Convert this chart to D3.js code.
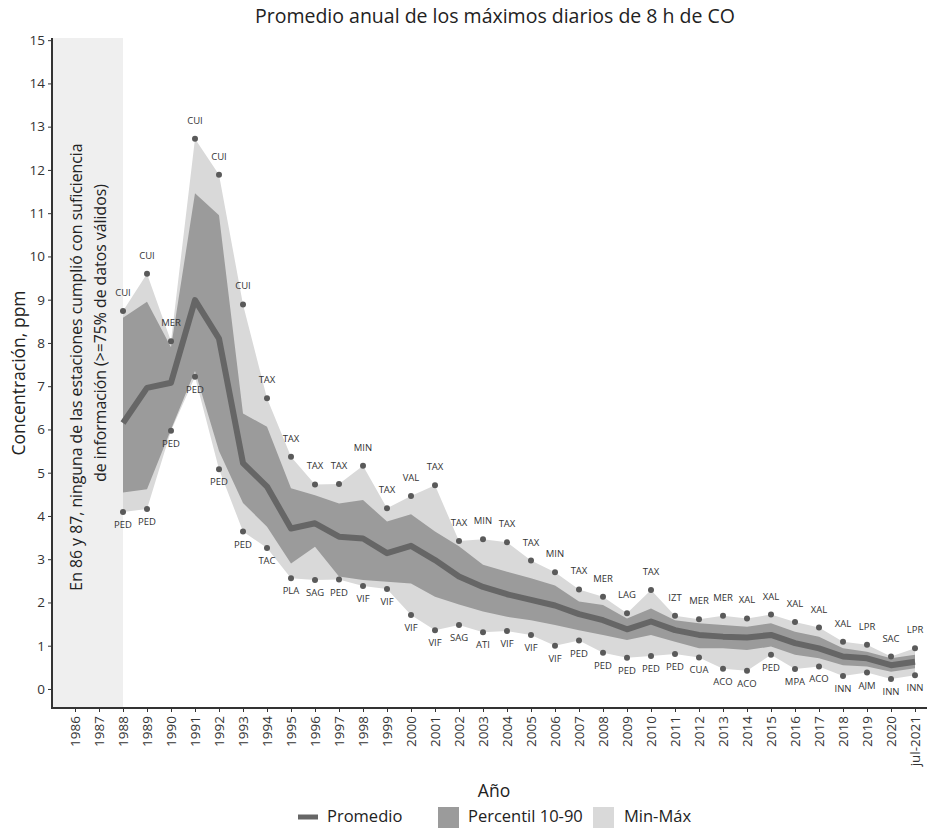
<!DOCTYPE html>
<html>
<head>
<meta charset="utf-8">
<script src="https://cdn.jsdelivr.net/npm/d3@7"></script>
<style>
  html, body { margin: 0; padding: 0; background: #fff; }
  svg { display: block; }
  text { font-family: "Open Sans", "Noto Sans", sans-serif; }
</style>
</head>
<body>
<svg id="chart" width="927" height="828"></svg>
<script>
// Years on the x axis
const years = ["1986","1987","1988","1989","1990","1991","1992","1993","1994","1995",
  "1996","1997","1998","1999","2000","2001","2002","2003","2004","2005","2006","2007",
  "2008","2009","2010","2011","2012","2013","2014","2015","2016","2017","2018","2019",
  "2020","jul-2021"];

// Years with valid data (1986 and 1987 have none)
const dataYears = years.slice(2);

// Annual mean of daily 8-h CO maxima, ppm
const promedio = [6.15, 6.96, 7.08, 8.99, 8.10, 5.22, 4.68, 3.71, 3.83, 3.52, 3.48, 3.14,
  3.31, 2.98, 2.60, 2.36, 2.19, 2.06, 1.93, 1.73, 1.59, 1.38, 1.56, 1.36, 1.25, 1.21,
  1.19, 1.25, 1.06, 0.94, 0.75, 0.71, 0.55, 0.63];
// 90th and 10th percentiles across stations
const p90 = [8.58, 8.95, 7.90, 11.46, 10.95, 6.37, 6.06, 4.64, 4.48, 4.29, 4.37, 3.87,
  4.04, 3.64, 3.30, 2.87, 2.71, 2.56, 2.39, 2.02, 1.94, 1.63, 1.86, 1.59, 1.52, 1.48,
  1.44, 1.52, 1.32, 1.21, 0.94, 0.86, 0.71, 0.79];
const p10 = [4.54, 4.62, 6.00, 7.35, 5.50, 4.30, 3.75, 2.90, 3.29, 2.60, 2.52, 2.48,
  2.44, 2.13, 1.95, 1.79, 1.67, 1.59, 1.48, 1.36, 1.25, 1.13, 1.25, 1.09, 0.94, 0.94,
  0.90, 0.98, 0.79, 0.71, 0.55, 0.52, 0.40, 0.48];
// Station maxima and minima
const maximo = [8.74, 9.60, 8.04, 12.72, 11.89, 8.89, 6.72, 5.37, 4.73, 4.74, 5.16, 4.18,
  4.46, 4.71, 3.42, 3.46, 3.39, 2.97, 2.70, 2.30, 2.13, 1.75, 2.29, 1.69, 1.61, 1.69,
  1.63, 1.72, 1.55, 1.42, 1.09, 1.02, 0.75, 0.94];
const minimo = [4.09, 4.16, 5.97, 7.22, 5.08, 3.64, 3.26, 2.56, 2.52, 2.53, 2.38, 2.31,
  1.71, 1.36, 1.48, 1.31, 1.34, 1.25, 1.00, 1.12, 0.84, 0.72, 0.76, 0.81, 0.73, 0.47,
  0.42, 0.79, 0.46, 0.52, 0.30, 0.38, 0.23, 0.32];
const estacionMax = ["CUI","CUI","MER","CUI","CUI","CUI","TAX","TAX","TAX","TAX","MIN",
  "TAX","VAL","TAX","TAX","MIN","TAX","TAX","MIN","TAX","MER","LAG","TAX","IZT","MER",
  "MER","XAL","XAL","XAL","XAL","XAL","LPR","SAC","LPR"];
const estacionMin = ["PED","PED","PED","PED","PED","PED","TAC","PLA","SAG","PED","VIF",
  "VIF","VIF","VIF","SAG","ATI","VIF","VIF","VIF","PED","PED","PED","PED","PED","CUA",
  "ACO","ACO","PED","MPA","ACO","INN","AJM","INN","INN"];

const yTicks = d3.range(0, 16);

const svg = d3.select("#chart");
const plotLeft = 52, plotRight = 927, plotTop = 38, plotBottom = 708;

const x = d3.scalePoint().domain(years).range([75, 915]);
const y = d3.scaleLinear().domain([-0.44, 15.05]).range([plotBottom, plotTop]);

const rows = dataYears.map((yr, i) => ({
  yr, mean: promedio[i], lo: p10[i], hi: p90[i], mn: minimo[i], mx: maximo[i],
  sMax: estacionMax[i], sMin: estacionMin[i]
}));

// Shaded panel for the years without sufficient data
svg.append("rect")
  .attr("x", plotLeft).attr("y", plotTop)
  .attr("width", x("1988") - plotLeft).attr("height", plotBottom - plotTop)
  .attr("fill", "#efefef");

svg.append("text")
  .attr("transform", `translate(${x("1986") + 7},367) rotate(-90)`)
  .attr("text-anchor", "middle").attr("font-size", 15.8).attr("fill", "#222")
  .text("En 86 y 87, ninguna de las estaciones cumplió con suficiencia");
svg.append("text")
  .attr("transform", `translate(${x("1987") + 7},333) rotate(-90)`)
  .attr("text-anchor", "middle").attr("font-size", 15.8).attr("fill", "#222")
  .text("de información (>=75% de datos válidos)");

// Min–max band
svg.append("path").datum(rows)
  .attr("fill", "#d9d9d9")
  .attr("d", d3.area().x(d => x(d.yr)).y0(d => y(d.mn)).y1(d => y(d.mx)));

// 10–90 percentile band
svg.append("path").datum(rows)
  .attr("fill", "#9b9b9b")
  .attr("d", d3.area().x(d => x(d.yr)).y0(d => y(d.lo)).y1(d => y(d.hi)));

// Mean line
svg.append("path").datum(rows)
  .attr("fill", "none").attr("stroke", "#666").attr("stroke-width", 6)
  .attr("stroke-linejoin", "round")
  .attr("d", d3.line().x(d => x(d.yr)).y(d => y(d.mean)));

// Station extremes
const pts = svg.append("g");
pts.selectAll("circle.mx").data(rows).join("circle")
  .attr("cx", d => x(d.yr)).attr("cy", d => y(d.mx)).attr("r", 3).attr("fill", "#5a5a5a");
pts.selectAll("circle.mn").data(rows).join("circle")
  .attr("cx", d => x(d.yr)).attr("cy", d => y(d.mn)).attr("r", 3).attr("fill", "#5a5a5a");

const lbl = svg.append("g").attr("font-size", 9.5).attr("fill", "#333")
  .attr("text-anchor", "middle");
lbl.selectAll("text.mx").data(rows).join("text")
  .attr("x", d => x(d.yr)).attr("y", d => y(d.mx) - 15)
  .text(d => d.sMax);
lbl.selectAll("text.mn").data(rows).join("text")
  .attr("x", d => x(d.yr)).attr("y", d => y(d.mn) + 16)
  .text(d => d.sMin);

// Axes
const yAxis = svg.append("g").attr("transform", `translate(${plotLeft},0)`)
  .call(d3.axisLeft(y).tickValues(yTicks).tickSize(4).tickPadding(3).tickFormat(d3.format("d")));
yAxis.select(".domain").remove();
yAxis.selectAll("text").attr("font-size", 13.5).attr("fill", "#333");
yAxis.selectAll("line").attr("stroke", "#333");

const xAxis = svg.append("g").attr("transform", `translate(0,${plotBottom})`)
  .call(d3.axisBottom(x).tickSize(4).tickPadding(3));
xAxis.select(".domain").remove();
xAxis.selectAll("line").attr("stroke", "#333");
xAxis.selectAll("text")
  .attr("font-size", 13.5).attr("fill", "#333")
  .attr("transform", "rotate(-90)")
  .attr("text-anchor", "end").attr("dy", "0.35em").attr("x", -8).attr("y", 0);

svg.append("line").attr("x1", plotLeft).attr("x2", plotLeft).attr("y1", plotTop).attr("y2", plotBottom + 1)
  .attr("stroke", "#333").attr("stroke-width", 2);
svg.append("line").attr("x1", plotLeft - 1).attr("x2", plotRight).attr("y1", plotBottom).attr("y2", plotBottom)
  .attr("stroke", "#333").attr("stroke-width", 2);

// Titles
svg.append("text").attr("x", 495).attr("y", 23).attr("text-anchor", "middle")
  .attr("font-size", 19.5).attr("fill", "#222")
  .text("Promedio anual de los máximos diarios de 8 h de CO");
svg.append("text").attr("transform", `translate(25,${(plotTop + plotBottom) / 2}) rotate(-90)`)
  .attr("text-anchor", "middle").attr("font-size", 17.5).attr("fill", "#222")
  .text("Concentración, ppm");
svg.append("text").attr("x", 494).attr("y", 797).attr("text-anchor", "middle")
  .attr("font-size", 17.5).attr("fill", "#222").text("Año");

// Legend
const lg = svg.append("g").attr("font-size", 16.5).attr("fill", "#222");
lg.append("line").attr("x1", 298).attr("x2", 318).attr("y1", 817).attr("y2", 817)
  .attr("stroke", "#666").attr("stroke-width", 5);
lg.append("text").attr("x", 327).attr("y", 822).text("Promedio");
lg.append("rect").attr("x", 438).attr("y", 807).attr("width", 21).attr("height", 21).attr("fill", "#9b9b9b");
lg.append("text").attr("x", 468).attr("y", 822).text("Percentil 10-90");
lg.append("rect").attr("x", 593).attr("y", 807).attr("width", 21).attr("height", 21).attr("fill", "#d9d9d9");
lg.append("text").attr("x", 624).attr("y", 822).text("Min-Máx");
</script>
</body>
</html>
